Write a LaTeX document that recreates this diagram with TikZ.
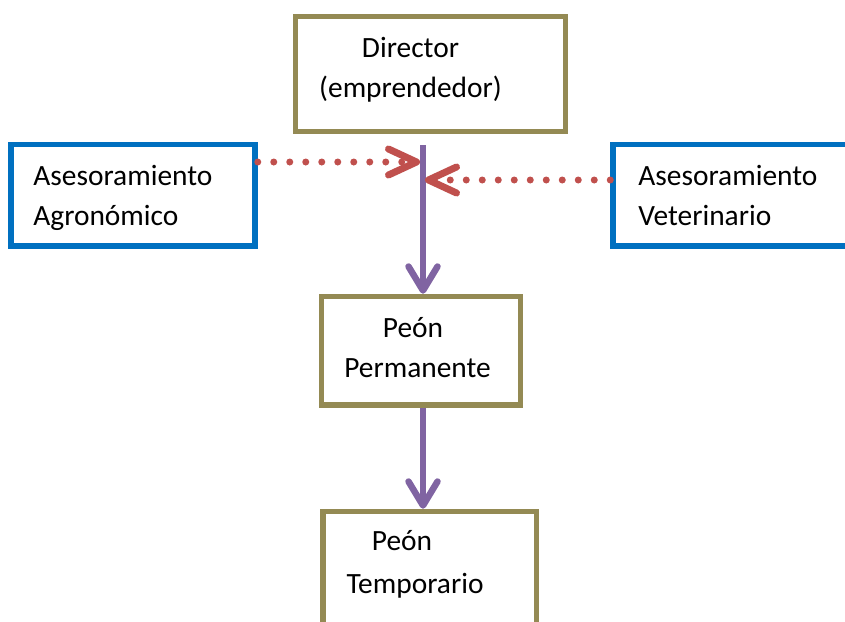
\documentclass[tikz,border=0pt]{standalone}
\usepackage{fontspec}
\setmainfont{Carlito}
\usepackage{xcolor}
\usetikzlibrary{arrows.meta}

\definecolor{olivebox}{HTML}{948A54}
\definecolor{bluebox}{HTML}{0070C0}
\definecolor{flowpurple}{HTML}{8064A2}
\definecolor{advicered}{HTML}{C0504D}

\begin{document}
\begin{tikzpicture}[x=0.5pt,y=-0.5pt]
% 1 = 1px of the page
    \def\XFLOW{423} % x of the vertical flow
    \def\YFLOW{145} % where the flow starts
    \def\YINLEFT{162}
    \def\YINRIGHT{180}

    \tikzset{
      role/.style args={#1:#2}{draw=olivebox,line width=2.75pt,
        minimum width=#1,minimum height=#2,inner sep=0pt},
      adviser/.style args={#1:#2}{draw=bluebox,line width=2.75pt,
        minimum width=#1,minimum height=#2,inner sep=0pt},
      label/.style={font=\fontsize{14.7}{20}\selectfont,inner sep=0pt},
      flow/.style={-{Straight Barb[length=12pt,width=14.5pt,round]},
        line width=3.25pt,color=flowpurple},
      advice/.style={-{Straight Barb[length=14pt,width=13pt,round]},
        line width=3.5pt,color=advicered,line cap=round,
        dash pattern=on 0pt off 8pt},
    }

    \useasboundingbox (0,0) rectangle (845,621);
    \clip (0,0) rectangle (845,621);

    % BOXES
    \node[role={135pt}:{57.5pt}] (dir) at (430.5,74) {};
    \node[adviser={122pt}:{50.75pt}] (agro) at (133,195.25) {};
    \node[adviser={133.5pt}:{50.75pt}] (vet) at (746.5,195.25) {};
    \node[role={99.5pt}:{54.25pt}] (perm) at (421,350.75) {};
    \node[role={106.75pt}:{84.25pt}] (temp) at (429.75,595.75) {};

    % TEXTS (anchored at the last line)
    \node[label,align=center,anchor=base] (dirtext) at (410.5,97)
        {Director\\(emprendedor)};
    \node[label,align=left,anchor=base west] (agrotext) at (33,225)
        {Asesoramiento\\Agronómico};
    \node[label,align=left,anchor=base west] (vettext) at (638,225)
        {Asesoramiento\\Veterinario};
    \node[label,align=center,anchor=base] (permtext) at (417.5,377)
        {Peón\hspace*{4.5pt}\\Permanente};
    \node[label,align=center,anchor=base] (temptext) at (415,593)
        {Peón\hspace*{13pt}\\[1.5pt]Temporario};

    % FLOW (PURPLE)
    \coordinate (fork) at (\XFLOW,\YFLOW);
    \draw[flow] (fork) -- (fork |- perm.north);
    \draw[flow] (fork |- perm.south) -- (fork |- temp.north);

    % ADVICE (RED, DOTTED)
    \coordinate (inleft) at (420,\YINLEFT);
    \coordinate (inright) at (425,\YINRIGHT);
    \draw[advice] (agro.east |- inleft) -- (inleft);
    \draw[advice] (vet.west |- inright) -- (inright);

\end{tikzpicture}
\end{document}
